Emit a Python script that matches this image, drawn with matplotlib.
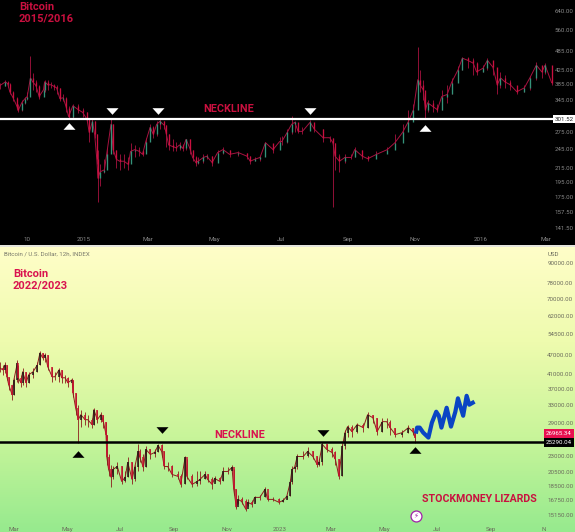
import matplotlib
matplotlib.use('Agg')
import matplotlib.pyplot as plt
import numpy as np
import pandas as pd
from matplotlib.colors import LinearSegmentedColormap

plt.rcParams['font.family'] = ['Roboto', 'DejaVu Sans']

# Bitcoin 2015/2016 (days after the first bar, then prices)
start_15 = '2014-10-16'
days_15 = [0, 5, 7, 9, 12, 16, 17, 20, 23, 25, 28, 30, 33, 36, 40, 41, 44, 47, 50, 52,
           55, 58, 61, 63, 67, 72, 76, 80, 82, 85, 87, 89, 90, 92, 96, 98, 102, 104, 107, 110,
           114, 118, 120, 124, 128, 131, 134, 138, 141, 144, 147, 151, 153, 155, 159, 162, 165, 168, 171, 175,
           177, 180, 182, 187, 190, 195, 200, 205, 211, 219, 227, 230, 234, 239, 244, 251, 257, 259, 264, 268,
           271, 274, 278, 285, 289, 297, 303, 306, 308, 312, 317, 323, 326, 333, 338, 346, 356, 363, 370, 375,
           380, 384, 386, 389, 391, 393, 398, 402, 406, 411, 415, 421, 425, 430, 435, 438, 444, 448, 453, 457,
           460, 464, 469, 475, 482, 487, 493, 498, 501, 507]
close_15 = [381, 391, 386, 365, 350, 327, 322, 338, 348, 353, 402, 391, 381, 353, 370, 391, 383, 383, 378, 375,
            348, 350, 327, 307, 331, 322, 316, 301, 275, 297, 271, 228, 200, 209, 212, 236, 291, 244, 228, 225,
            225, 220, 241, 244, 241, 236, 258, 285, 271, 291, 297, 289, 271, 252, 249, 247, 252, 246, 262, 244,
            231, 223, 225, 231, 233, 223, 239, 244, 236, 239, 233, 225, 228, 231, 256, 244, 258, 258, 275, 291,
            295, 277, 277, 295, 281, 265, 265, 256, 233, 225, 231, 231, 244, 233, 229, 236, 244, 256, 275, 295,
            322, 397, 383, 370, 322, 338, 329, 322, 353, 358, 389, 425, 461, 454, 445, 419, 430, 454, 433, 383,
            402, 391, 383, 365, 375, 402, 439, 419, 439, 389]
high_15 = [389, 397, 394, 389, 368, 353, 334, 345, 353, 365, 467, 416, 397, 383, 391, 397, 397, 391, 386, 383,
           375, 358, 353, 331, 336, 334, 325, 318, 305, 303, 297, 271, 244, 220, 228, 247, 305, 291, 244, 236,
           236, 231, 256, 252, 249, 244, 265, 291, 287, 297, 303, 297, 289, 271, 262, 258, 258, 254, 263, 262,
           244, 234, 231, 236, 237, 233, 244, 249, 244, 242, 239, 234, 231, 234, 258, 251, 267, 269, 281, 309,
           297, 293, 285, 299, 293, 281, 269, 265, 256, 236, 236, 236, 249, 244, 234, 241, 249, 271, 291, 322,
           336, 498, 425, 397, 358, 345, 345, 334, 370, 383, 402, 436, 464, 464, 461, 448, 439, 461, 448, 425,
           419, 410, 397, 378, 383, 408, 448, 430, 445, 430]
low_15 = [373, 381, 378, 358, 343, 322, 318, 320, 336, 345, 391, 370, 365, 348, 358, 365, 370, 375, 370, 358,
          343, 341, 318, 303, 305, 314, 307, 297, 258, 281, 265, 220, 170, 190, 208, 215, 247, 236, 215, 212,
          215, 212, 228, 231, 234, 233, 241, 267, 265, 269, 281, 281, 249, 244, 241, 242, 244, 241, 244, 236,
          225, 218, 220, 223, 228, 218, 231, 237, 231, 233, 228, 220, 225, 226, 241, 239, 247, 252, 256, 271,
          275, 273, 271, 281, 275, 258, 258, 164, 212, 209, 223, 228, 231, 228, 226, 231, 241, 249, 269, 281,
          301, 334, 365, 345, 303, 316, 318, 316, 322, 338, 358, 391, 425, 430, 410, 410, 419, 425, 410, 358,
          375, 375, 370, 360, 365, 370, 397, 402, 413, 383]
yticks_15 = [640, 560, 485, 425, 385, 345, 275, 245, 215, 195, 175, 157.5, 141.5]
neck_15 = 301.52
up_marks_15 = [(63, 287), (391, 283)]
down_marks_15 = [(103, 320), (145, 320), (285, 320)]
xticks_15 = ['2014-11-10', '2015-01-01', '2015-03-01', '2015-05-01', '2015-07-01',
             '2015-09-01', '2015-11-01', '2016-01-01', '2016-03-01']
xlabels_15 = ['10', '2015', 'Mar', 'May', 'Jul', 'Sep', 'Nov', '2016', 'Mar']

# Bitcoin 2022/2023
start_22 = '2022-02-13'
days_22 = [0, 3, 6, 8, 10, 14, 16, 20, 21, 24, 26, 30, 33, 38, 43, 46, 49, 52, 55, 60,
           63, 68, 71, 75, 78, 83, 84, 87, 90, 93, 98, 101, 106, 108, 112, 116, 119, 122, 123, 125,
           128, 130, 135, 140, 144, 147, 152, 155, 159, 161, 165, 168, 173, 178, 182, 186, 189, 193, 198, 205,
           208, 213, 215, 221, 227, 230, 236, 239, 244, 247, 253, 257, 262, 267, 269, 272, 274, 278, 283, 285,
           290, 293, 299, 305, 308, 314, 321, 326, 330, 334, 336, 339, 342, 349, 354, 360, 365, 367, 371, 376,
           382, 386, 390, 394, 397, 400, 405, 411, 418, 423, 429, 434, 440, 445, 449, 455, 463, 470, 475, 478]
close_22 = [42840, 42240, 43750, 40210, 38010, 35400, 39370, 44370, 39930, 38550, 41650, 38550, 40780, 41650, 43750, 47620, 45970, 46950, 43140, 40210,
            40210, 42240, 39930, 39930, 38550, 39370, 35900, 32300, 29680, 30740, 29680, 29680, 28660, 31850, 29680, 30740, 29270, 26710, 22710, 20860,
            19720, 20860, 21310, 19170, 19720, 21920, 19440, 21160, 23700, 22710, 21160, 24040, 23200, 23530, 24730, 23700, 21310, 21310, 20140, 19860,
            18770, 22710, 19860, 18770, 19170, 19440, 20140, 19440, 18770, 19580, 19170, 20570, 20570, 21160, 18120, 15960, 16880, 16640, 15730, 16530,
            16300, 17120, 17120, 18120, 16880, 16880, 16530, 16760, 17240, 19040, 20860, 21160, 22870, 22870, 23700, 22870, 21610, 21920, 24900, 24040,
            23530, 22390, 19860, 24550, 27090, 28260, 27280, 28660, 28060, 30740, 30100, 27280, 29270, 29270, 28060, 26710, 27090, 28060, 27280, 26150]
high_22 = [44690, 43750, 44690, 43750, 40210, 38010, 39930, 45370, 43750, 40780, 42840, 41650, 41650, 42840, 44690, 48300, 47620, 47620, 46950, 43140,
           41650, 42840, 42240, 40780, 40210, 39930, 39370, 35900, 33000, 31850, 31400, 30740, 30100, 32300, 31850, 31400, 30740, 29270, 26710, 23200,
           21610, 21310, 21920, 21310, 20570, 22710, 21920, 21610, 24900, 24040, 23200, 24550, 24040, 24040, 25070, 24900, 23700, 21920, 21610, 20570,
           20140, 22870, 22390, 20140, 20570, 20570, 20570, 20140, 19720, 19860, 19720, 21160, 21160, 21460, 20860, 18120, 17450, 17120, 16880, 16880,
           16760, 17350, 17450, 18380, 17450, 17120, 17000, 17000, 17450, 19440, 21310, 21610, 23200, 23700, 24380, 23700, 22870, 22390, 25420, 24900,
           24380, 23700, 22390, 24900, 27660, 28660, 28660, 29060, 29060, 31400, 30740, 30100, 30100, 30100, 29680, 28060, 27660, 28660, 28060, 27660]
low_22 = [41650, 40780, 41360, 39370, 36700, 34170, 35400, 38820, 38550, 37480, 38010, 37480, 38550, 39930, 41650, 43750, 45370, 44690, 42240, 38820,
          39370, 38820, 38550, 38550, 37480, 37480, 34900, 30740, 25250, 28260, 28660, 28260, 28060, 28660, 29060, 29270, 28060, 25790, 21610, 19860,
          18380, 19440, 20140, 18770, 19040, 19720, 18770, 19170, 20570, 21920, 20570, 21160, 22390, 22710, 23530, 22710, 20860, 20570, 19720, 19440,
          18380, 18770, 19440, 18380, 18500, 18770, 19440, 19040, 18120, 19040, 18770, 19170, 20140, 20570, 17450, 15730, 16300, 16300, 15510, 16070,
          15960, 16530, 16760, 17120, 16640, 16640, 16300, 16530, 16880, 17240, 18770, 20430, 20860, 22390, 22710, 22390, 21160, 21310, 21610, 23530,
          22710, 21610, 19440, 19860, 24040, 26340, 26340, 27090, 27280, 28060, 29060, 26710, 27280, 28060, 26710, 26340, 26340, 27090, 26710, 25250]
proj_days = [479, 480, 483, 487, 493, 497, 502, 505, 508, 511, 514, 519, 524, 527, 533, 537, 540, 544]
proj_price = [27280, 28060, 28060, 27090, 26150, 29060, 31400, 30520, 28060, 30100, 32300, 28260, 31400, 34530, 30520, 35150, 33000, 33470]
yticks_22 = [90000, 78000, 70000, 62000, 54500, 47000, 41000, 37000, 33000, 29000, 23000, 20500, 18500, 16750, 15150]
neck_22 = 25290.04
last_22 = 26965.34
up_marks_22 = [(90, 23200), (478, 23870)]
down_marks_22 = [(186, 27660), (372, 27090)]
xticks_22 = ['2022-03-01', '2022-05-01', '2022-07-01', '2022-09-01', '2022-11-01', '2023-01-01',
             '2023-03-01', '2023-05-01', '2023-07-01', '2023-09-01', '2023-11-01']
xlabels_22 = ['Mar', 'May', 'Jul', 'Sep', 'Nov', '2023', 'Mar', 'May', 'Jul', 'Sep', 'N']

RED = '#c9103f'
RED2 = '#d9134f'
UP_MARK = [(-1, -0.55), (1, -0.55), (0, 0.55)]
DOWN_MARK = [(-1, 0.55), (1, 0.55), (0, -0.55)]


def to_dates(start, days):
    return pd.Timestamp(start) + pd.to_timedelta(np.array(days), unit='D')


def draw_bars(ax, dates, close, high, low, up_col, down_col, wick_col, body_w):
    close = np.array(close)
    opens = np.r_[close[0], close[:-1]]
    cols = [up_col if c > o else down_col for o, c in zip(opens, close)]
    ax.plot(dates, close, color=wick_col, lw=0.7, zorder=2)
    ax.vlines(dates, low, high, colors=wick_col, lw=0.6, zorder=2)
    ax.vlines(dates, opens, close, colors=cols, lw=body_w, zorder=3)


def set_axis(ax, start, xspan, ymax, ymin, yticks, xticks, xlabels, col):
    ax.set_yscale('log')
    ax.set_xlim(pd.Timestamp(start), pd.Timestamp(start) + pd.Timedelta(days=xspan))
    ax.set_ylim(ymin, ymax)
    ax.yaxis.tick_right()
    ax.set_yticks(yticks)
    ax.set_yticklabels([f'{v:.2f}' for v in yticks])
    ax.minorticks_off()
    ax.set_xticks(pd.to_datetime(xticks))
    ax.set_xticklabels(xlabels, va='baseline')
    ax.tick_params(axis='both', length=0, labelsize=4.4, labelcolor=col)
    for s in ax.spines.values():
        s.set_visible(False)


fig = plt.figure(figsize=(5.75, 5.32), dpi=100, facecolor='#e4e4dc')
ax1 = fig.add_axes([0, 1 - 245 / 532, 1, 245 / 532], facecolor='black')
ax2 = fig.add_axes([0, 0, 1, 285 / 532])

# top panel
dates_15 = to_dates(start_15, days_15)
set_axis(ax1, start_15, 528.5, 691, 125.6, yticks_15, xticks_15, xlabels_15, '#8a8a8a')
ax1.tick_params(axis='y', pad=-14.5)
ax1.tick_params(axis='x', pad=-3)
draw_bars(ax1, dates_15, close_15, high_15, low_15, '#35937a', RED, '#a81240', 0.95)
ax1.plot([pd.Timestamp(start_15), to_dates(start_15, [507])[0]], [neck_15, neck_15], color='white', lw=1.6, zorder=4)
ax1.scatter(to_dates(start_15, [m[0] for m in up_marks_15]), [m[1] for m in up_marks_15],
            marker=UP_MARK, s=75, color='white', lw=0, zorder=5)
ax1.scatter(to_dates(start_15, [m[0] for m in down_marks_15]), [m[1] for m in down_marks_15],
            marker=DOWN_MARK, s=75, color='white', lw=0, zorder=5)
ax1.text(to_dates(start_15, [509.5])[0], neck_15, f'{neck_15:.2f}', fontsize=4.4, color='#222222', va='center',
         bbox=dict(facecolor='white', edgecolor='none', pad=1.2), zorder=6)

# bottom panel, the background runs from pale yellow to green
dates_22 = to_dates(start_22, days_22)
grad = LinearSegmentedColormap.from_list('bg', ['#fffec8', '#eefbae', '#c8f59a', '#96ea8e'])
ax2.imshow(np.linspace(0, 1, 256).reshape(-1, 1), cmap=grad, aspect='auto', extent=(0, 1, 0, 1),
           transform=ax2.transAxes, zorder=0)
set_axis(ax2, start_22, 661.7, 100800, 13400, yticks_22, xticks_22, xlabels_22, '#6b6b5c')
ax2.tick_params(axis='y', pad=-20)
ax2.tick_params(axis='x', pad=-0.5)
draw_bars(ax2, dates_22, close_22, high_22, low_22, '#1f1414', '#c8102e', '#8c1c1c', 1.1)
ax2.plot(to_dates(start_22, proj_days), proj_price, color='#0a45c4', lw=3, zorder=4)
ax2.plot([pd.Timestamp(start_22), to_dates(start_22, [625])[0]], [neck_22, neck_22], color='black', lw=1.8, zorder=4)
ax2.scatter(to_dates(start_22, [m[0] for m in up_marks_22]), [m[1] for m in up_marks_22],
            marker=UP_MARK, s=75, color='black', lw=0, zorder=5)
ax2.scatter(to_dates(start_22, [m[0] for m in down_marks_22]), [m[1] for m in down_marks_22],
            marker=DOWN_MARK, s=75, color='black', lw=0, zorder=5)
ax2.text(to_dates(start_22, [628])[0], neck_22, f'{neck_22:.2f}', fontsize=4.4, color='white', va='center',
         bbox=dict(facecolor='black', edgecolor='none', pad=1.6), zorder=6)
ax2.text(to_dates(start_22, [628])[0], last_22, f'{last_22:.2f}', fontsize=4.4, color='white', va='center',
         bbox=dict(facecolor='#e8104f', edgecolor='none', pad=1.6), zorder=6)


def px_text(x, y, s, **kw):
    fig.text(x / 575, 1 - y / 532, s, **kw)


px_text(19, 6.5, 'Bitcoin', color=RED, fontsize=8, fontweight='bold', va='center')
px_text(19, 18, '2015/2016', color=RED, fontsize=8, fontweight='bold', va='center')
px_text(203, 109, 'NECKLINE', color=RED, fontsize=7.8, fontweight='bold', va='center')
px_text(13, 274, 'Bitcoin', color=RED2, fontsize=8, fontweight='bold', va='center')
px_text(13, 285.5, '2022/2023', color=RED2, fontsize=8, fontweight='bold', va='center')
px_text(214, 435, 'NECKLINE', color=RED2, fontsize=7.8, fontweight='bold', va='center')
px_text(422, 499, 'STOCKMONEY LIZARDS', color=RED, fontsize=7.6, fontweight='bold', va='center')
px_text(4, 254.5, 'Bitcoin / U.S. Dollar, 12h, INDEX', color='#77776a', fontsize=4.4, va='center')
px_text(548, 254, 'USD', color='#6b6b5c', fontsize=4.4, va='center')

ax2.scatter([to_dates(start_22, [479])[0]], [15020], s=62, color='white', edgecolors='#a020a8', lw=0.9, zorder=6)
ax2.text(to_dates(start_22, [479])[0], 15020, '\u26a1', family='DejaVu Sans', fontsize=5, color='#a020a8',
         ha='center', va='center', zorder=7)

fig.savefig('out.png', dpi=100, facecolor=fig.get_facecolor())
